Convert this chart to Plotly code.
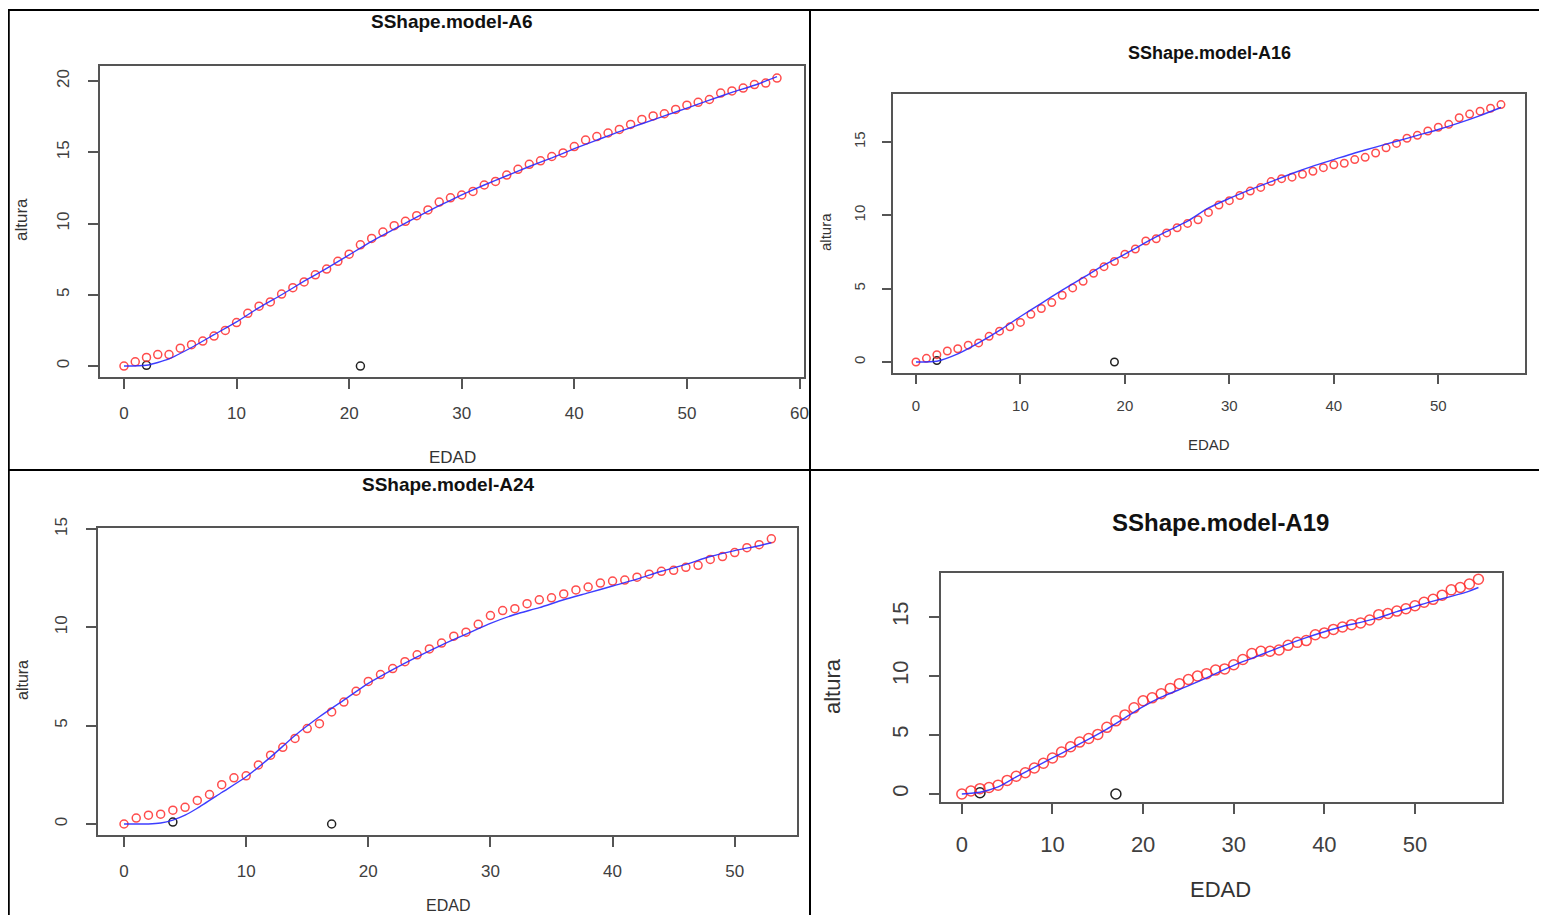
import plotly.graph_objects as go

# Page body has an 8px margin; the figure is sized so the page fits the window.
OFF = 8
W, H = 1547 - 2 * OFF, 923 - 2 * OFF

# ---------------- data ----------------
a6_age = list(range(0, 59))
a6_h = [0, 0.3, 0.6, 0.8, 0.8, 1.25, 1.5, 1.75, 2.1, 2.5, 3.05, 3.7, 4.2, 4.5, 5.05, 5.5, 5.9, 6.4, 6.8, 7.35,
        7.85, 8.5, 8.95, 9.4, 9.85, 10.15, 10.55, 10.95, 11.5, 11.8, 12.0, 12.25, 12.7, 12.95, 13.4, 13.8, 14.15,
        14.4, 14.7, 14.95, 15.4, 15.85, 16.1, 16.35, 16.6, 16.95, 17.3, 17.55, 17.7, 18.0, 18.3, 18.5, 18.7, 19.15,
        19.3, 19.5, 19.75, 19.85, 20.2]
a6_fit_age = [0, 2, 4, 6, 8, 10, 12, 14, 16, 18, 20, 22, 24, 26, 28, 30, 32, 34, 36, 38, 40, 42, 44, 46, 48, 50,
              52, 54, 56, 58]
a6_fit = [0, 0.05, 0.5, 1.3, 2.2, 3.1, 4.1, 5.0, 5.95, 6.85, 7.8, 8.75, 9.6, 10.45, 11.25, 12.0, 12.7, 13.35,
          14.0, 14.6, 15.25, 15.85, 16.45, 17.0, 17.55, 18.1, 18.65, 19.2, 19.7, 20.3]
a6_obs_age = [2, 21]
a6_obs_h = [0.05, 0]

a16_age = list(range(0, 57))
a16_h = [0, 0.25, 0.5, 0.75, 0.9, 1.15, 1.3, 1.75, 2.1, 2.4, 2.7, 3.25, 3.65, 4.05, 4.55, 5.05, 5.5, 6.05, 6.5,
         6.85, 7.35, 7.7, 8.25, 8.4, 8.8, 9.15, 9.45, 9.7, 10.2, 10.7, 11.0, 11.35, 11.65, 11.9, 12.3, 12.5, 12.6,
         12.8, 13.0, 13.25, 13.45, 13.55, 13.8, 13.95, 14.25, 14.6, 14.9, 15.25, 15.45, 15.75, 16.0, 16.2, 16.65,
         16.9, 17.1, 17.3, 17.55]
a16_fit_age = [0, 2, 4, 6, 8, 10, 12, 14, 16, 18, 20, 22, 24, 26, 28, 30, 32, 34, 36, 38, 40, 42, 44, 46, 48, 50,
               52, 54, 56]
a16_fit = [0, 0.05, 0.55, 1.3, 2.15, 3.1, 4.0, 4.9, 5.75, 6.6, 7.35, 8.15, 8.9, 9.6, 10.5, 11.15, 11.75, 12.3,
           12.85, 13.35, 13.8, 14.25, 14.65, 15.05, 15.45, 15.85, 16.3, 16.8, 17.35]
a16_obs_age = [2, 19]
a16_obs_h = [0.1, 0]

a24_age = list(range(0, 54))
a24_h = [0, 0.3, 0.45, 0.5, 0.7, 0.85, 1.2, 1.5, 2.0, 2.35, 2.45, 3.0, 3.5, 3.9, 4.35, 4.85, 5.1, 5.7, 6.2, 6.75,
         7.25, 7.6, 7.9, 8.25, 8.6, 8.9, 9.2, 9.55, 9.75, 10.15, 10.6, 10.85, 10.95, 11.2, 11.4, 11.5, 11.7, 11.9,
         12.05, 12.25, 12.35, 12.4, 12.55, 12.7, 12.85, 12.9, 13.05, 13.15, 13.45, 13.6, 13.8, 14.05, 14.2, 14.5]
a24_fit_age = [0, 1, 2, 3, 4, 5, 6, 8, 10, 12, 14, 16, 18, 20, 22, 24, 26, 28, 30, 32, 34, 36, 38, 40, 42, 44, 46,
               48, 50, 52, 53]
a24_fit = [0, 0, 0, 0.05, 0.2, 0.45, 0.8, 1.6, 2.4, 3.4, 4.5, 5.45, 6.3, 7.15, 7.85, 8.5, 9.1, 9.65, 10.2, 10.65,
           11.0, 11.4, 11.75, 12.1, 12.45, 12.85, 13.2, 13.6, 13.9, 14.15, 14.3]
a24_obs_age = [4, 17]
a24_obs_h = [0.1, 0]

a19_age = list(range(0, 58))
a19_h = [0, 0.25, 0.45, 0.55, 0.75, 1.15, 1.5, 1.8, 2.2, 2.6, 3.05, 3.55, 4.0, 4.4, 4.7, 5.05, 5.65, 6.2, 6.7, 7.3,
         7.9, 8.15, 8.5, 8.95, 9.35, 9.7, 10.0, 10.2, 10.5, 10.6, 10.95, 11.4, 11.9, 12.1, 12.1, 12.2, 12.6, 12.85,
         13.0, 13.5, 13.65, 13.95, 14.15, 14.35, 14.5, 14.75, 15.2, 15.3, 15.5, 15.7, 15.95, 16.25, 16.5, 16.85,
         17.3, 17.5, 17.8, 18.2]
a19_fit_age = [0, 2, 4, 6, 8, 10, 12, 14, 16, 18, 20, 22, 24, 26, 28, 30, 32, 34, 36, 38, 40, 42, 44, 46, 48, 50,
               52, 54, 56, 57]
a19_fit = [0, 0.15, 0.6, 1.45, 2.25, 3.05, 3.85, 4.65, 5.5, 6.45, 7.4, 8.2, 8.85, 9.5, 10.2, 10.9, 11.5, 12.1,
           12.7, 13.25, 13.75, 14.2, 14.55, 14.95, 15.45, 15.9, 16.35, 16.75, 17.2, 17.5]
a19_obs_age = [2, 17]
a19_obs_h = [0.1, 0]

titles = ["SShape.model-A6", "SShape.model-A16", "SShape.model-A24", "SShape.model-A19"]
x_ticks = [[0, 10, 20, 30, 40, 50, 60], [0, 10, 20, 30, 40, 50], [0, 10, 20, 30, 40, 50], [0, 10, 20, 30, 40, 50]]
y_ticks = [[0, 5, 10, 15, 20], [0, 5, 10, 15], [0, 5, 10, 15], [0, 5, 10, 15]]

panels = [
    dict(age=a6_age, h=a6_h, fa=a6_fit_age, f=a6_fit, oa=a6_obs_age, oh=a6_obs_h,
         box=(100, 66, 804, 377), xr=(-2.13, 60.4), yr=(-0.77, 21.05),
         title_xy=(452, 21), tfs=19, xl_xy=(452, 457), yl_xy=(22, 220), lfs=17, tkfs=17, msize=8,
         tklen=10, xso=10, yso=12),
    dict(age=a16_age, h=a16_h, fa=a16_fit_age, f=a16_fit, oa=a16_obs_age, oh=a16_obs_h,
         box=(893, 94, 1525, 373), xr=(-2.2, 58.3), yr=(-0.75, 18.27),
         title_xy=(1209, 53), tfs=18, xl_xy=(1209, 444), yl_xy=(825, 232), lfs=15, tkfs=15, msize=7.5,
         tklen=9, xso=9, yso=11),
    dict(age=a24_age, h=a24_h, fa=a24_fit_age, f=a24_fit, oa=a24_obs_age, oh=a24_obs_h,
         box=(98, 528, 797, 835), xr=(-2.13, 55.1), yr=(-0.56, 15.05),
         title_xy=(448, 484), tfs=19, xl_xy=(448, 905), yl_xy=(22, 680), lfs=16, tkfs=17, msize=8,
         tklen=10, xso=10, yso=12),
    dict(age=a19_age, h=a19_h, fa=a19_fit_age, f=a19_fit, oa=a19_obs_age, oh=a19_obs_h,
         box=(941, 573, 1502, 802), xr=(-2.3, 59.6), yr=(-0.68, 18.73),
         title_xy=(1220, 522), tfs=24, xl_xy=(1220, 889), yl_xy=(832, 686), lfs=22, tkfs=22, msize=10,
         tklen=10, xso=12, yso=12),
]

FONT = "Liberation Sans, Arial, sans-serif"


def px(x):
    return (x - OFF) / W


def py(y):
    return 1 - (y - OFF) / H


fig = go.Figure()
annotations = []
for i, p in enumerate(panels):
    n = "" if i == 0 else str(i + 1)
    xa, ya = "x" + n, "y" + n
    fig.add_trace(go.Scatter(x=p["oa"], y=p["oh"], mode="markers", xaxis=xa, yaxis=ya, showlegend=False,
                             marker=dict(symbol="circle-open", size=p["msize"], color="#222222",
                                         line=dict(width=1.5))))
    fig.add_trace(go.Scatter(x=p["age"], y=p["h"], mode="markers", xaxis=xa, yaxis=ya, showlegend=False,
                             marker=dict(symbol="circle-open", size=p["msize"], color="rgba(255,45,45,0.85)",
                                         line=dict(width=1.5))))
    fig.add_trace(go.Scatter(x=p["fa"], y=p["f"], mode="lines", xaxis=xa, yaxis=ya, showlegend=False,
                             line=dict(color="rgba(40,40,255,0.9)", width=1.4, shape="spline", smoothing=0.6)))
    x0, y0, x1, y1 = p["box"]
    axis_common = dict(showline=True, mirror=True, linecolor="#555555", linewidth=1.5, showgrid=False,
                       zeroline=False, ticks="outside", ticklen=p["tklen"], tickwidth=1.5, tickcolor="#555555",
                       automargin=False,
                       tickfont=dict(family=FONT, size=p["tkfs"], color="#404040"))
    fig.update_layout(**{
        ("xaxis" + n): dict(domain=[px(x0), px(x1)], anchor=ya, range=list(p["xr"]),
                            tickvals=x_ticks[i], ticklabelstandoff=p["xso"], **axis_common),
        ("yaxis" + n): dict(domain=[py(y1), py(y0)], anchor=xa, range=list(p["yr"]),
                            tickvals=y_ticks[i], tickangle=-90, ticklabelstandoff=p["yso"], **axis_common),
    })
    annotations.append(dict(text="<b>" + titles[i] + "</b>", x=px(p["title_xy"][0]), y=py(p["title_xy"][1]),
                            xref="paper", yref="paper", showarrow=False, xanchor="center", yanchor="middle",
                            font=dict(family=FONT, size=p["tfs"], color="#111111")))
    annotations.append(dict(text="EDAD", x=px(p["xl_xy"][0]), y=py(p["xl_xy"][1]), xref="paper", yref="paper",
                            showarrow=False, xanchor="center", yanchor="middle",
                            font=dict(family=FONT, size=p["lfs"], color="#333333")))
    annotations.append(dict(text="altura", x=px(p["yl_xy"][0]), y=py(p["yl_xy"][1]), xref="paper", yref="paper",
                            showarrow=False, xanchor="center", yanchor="middle", textangle=-90,
                            font=dict(family=FONT, size=p["lfs"], color="#333333")))

shapes = [
    dict(type="line", xref="paper", yref="paper", x0=0.0005, x1=0.0005, y0=0, y1=py(10),
         line=dict(color="black", width=2)),
    dict(type="line", xref="paper", yref="paper", x0=0, x1=1, y0=py(10), y1=py(10),
         line=dict(color="black", width=2)),
    dict(type="line", xref="paper", yref="paper", x0=px(810), x1=px(810), y0=0, y1=py(10),
         line=dict(color="black", width=2)),
    dict(type="line", xref="paper", yref="paper", x0=0, x1=1, y0=py(470), y1=py(470),
         line=dict(color="black", width=2)),
]

fig.update_layout(width=W, height=H, margin=dict(l=0, r=0, t=0, b=0, pad=0, autoexpand=False),
                  paper_bgcolor="white", plot_bgcolor="white", annotations=annotations, shapes=shapes,
                  showlegend=False)

fig.write_html("out.html", config={"displayModeBar": False})
